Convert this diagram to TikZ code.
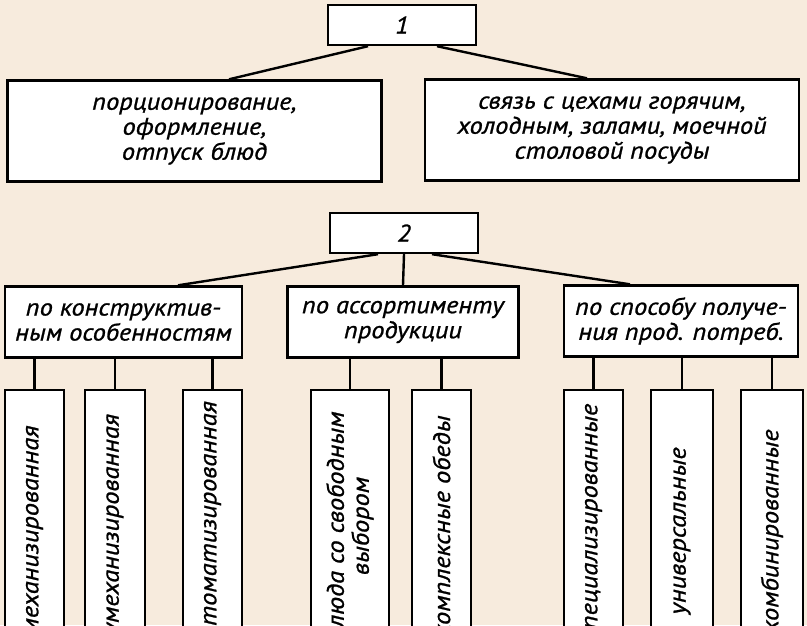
\documentclass[tikz,border=0pt]{standalone}
\usepackage{fontspec}
\setmainfont{PT Sans}[FakeStretch=1.1, FakeBold=1]
\usetikzlibrary{positioning}
\definecolor{paper}{RGB}{247,235,221}
\begin{document}
\begin{tikzpicture}[x=1pt, y=-1pt, line width=2.4pt,
    box/.style={rectangle, draw, fill=white, align=center, inner sep=2pt, font=\fontsize{24}{25}\selectfont\itshape},
    head/.style={box, minimum width=148pt, minimum height=40pt},
    group/.style={box, minimum width=374pt, minimum height=101pt},
    kind/.style={box, minimum width=234pt, minimum height=71pt},
    item/.style={box, rotate=90, minimum width=272pt, minimum height=59pt},
    line/.style={draw}]
    \useasboundingbox (0,0) rectangle (807,625);
    \fill [paper] (0,0) rectangle (807,625);
    \clip (0,0) rectangle (807,625);

    \node [head] (one) at (402,25) {1};
    \node [group] (serve) at (194.5,131) {порционирование,\\оформление,\\отпуск блюд};
    \node [group] (link) at (612,130) {связь с цехами горячим,\\холодным, залами, моечной\\столовой посуды};

    \node [head] (two) at (404,233) {2};
    \node [kind, minimum width=237pt] (constr) at (123.5,322) {по конструктив-\\ным особенностям};
    \node [kind, minimum width=231pt] (assort) at (403,322) {по ассортименту\\продукции};
    \node [kind] (method) at (681,321) {по способу получе-\\ния прод. потреб.};

    \node [item, minimum width=306pt] (hand) at (34.5,543) {немеханизированная};
    \node [item, minimum width=308pt, minimum height=60pt] (semi) at (115,544) {полумеханизированная};
    \node [item] (auto) at (212.5,526) {автоматизированная};
    \node [item, minimum height=78pt] (free) at (350,526) {блюда со свободным\\выбором};
    \node [item] (set) at (441.5,526) {комплексные обеды};
    \node [item, minimum width=264pt] (spec) at (593.5,522) {специализированные};
    \node [item, minimum width=282pt, minimum height=62pt] (univ) at (682,531) {универсальные};
    \node [item, minimum width=282pt, minimum height=62pt] (comb) at (772,531) {комбинированные};

    \path [line] ([xshift=-34pt]one.south) -- ([xshift=34.5pt]serve.north);
    \path [line] ([xshift=35pt]one.south) -- ([xshift=-25pt]link.north);
    \path [line] ([xshift=-26pt]two.south) -- ([xshift=54.5pt]constr.north);
    \path [line] (two.south) -- (assort.north);
    \path [line] ([xshift=28pt]two.south) -- ([xshift=-51pt]method.north);

    \path [line] (hand.east) -- (hand.east |- constr.south);
    \path [line] (semi.east) -- (semi.east |- constr.south);
    \path [line] (auto.east) -- (auto.east |- constr.south);
    \path [line] (free.east) -- (free.east |- assort.south);
    \path [line] (set.east) -- (set.east |- assort.south);
    \path [line] (spec.east) -- (spec.east |- method.south);
    \path [line] (univ.east) -- (univ.east |- method.south);
    \path [line] (comb.east) -- (comb.east |- method.south);
\end{tikzpicture}
\end{document}
